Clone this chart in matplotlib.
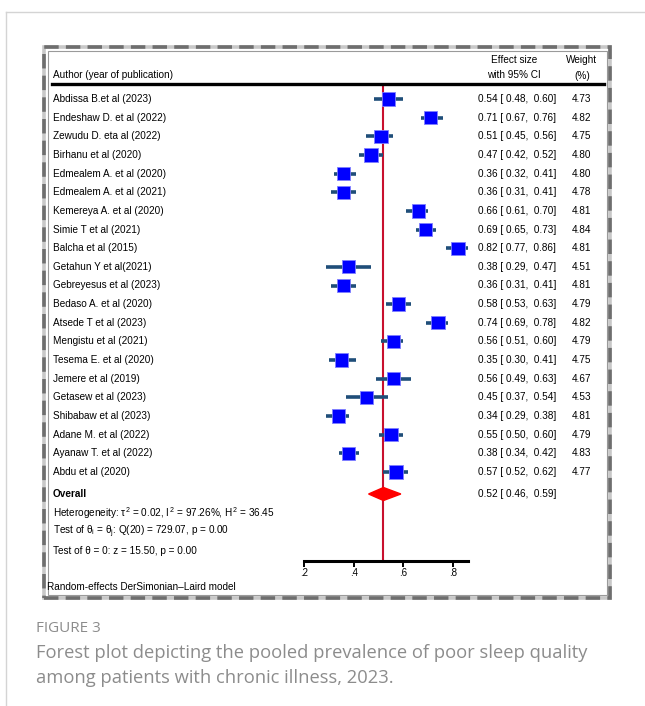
import matplotlib
matplotlib.use("Agg")
import matplotlib.pyplot as plt
import matplotlib.transforms as mtransforms
from matplotlib.patches import Rectangle, Polygon
from matplotlib.lines import Line2D

plt.rcParams['font.family'] = ['Liberation Sans', 'DejaVu Sans']
plt.rcParams['mathtext.fontset'] = 'custom'
plt.rcParams['mathtext.rm'] = 'Liberation Sans'
plt.rcParams['mathtext.it'] = 'Liberation Sans'
plt.rcParams['mathtext.bf'] = 'Liberation Sans:bold'

# ---------------- data ----------------
studies = ["Abdissa B.et al (2023)", "Endeshaw D. et al (2022)", "Zewudu D. eta al (2022)",
           "Birhanu et al (2020)", "Edmealem A. et al (2020)", "Edmealem A. et al (2021)",
           "Kemereya A. et al (2020)", "Simie T et al (2021)", "Balcha et al (2015)",
           "Getahun Y et al(2021)", "Gebreyesus et al (2023)", "Bedaso A. et al (2020)",
           "Atsede T et al (2023)", "Mengistu et al (2021)", "Tesema E. et al (2020)",
           "Jemere et al (2019)", "Getasew et al (2023)", "Shibabaw et al (2023)",
           "Adane M. et al (2022)", "Ayanaw T. et al (2022)", "Abdu et al (2020)"]
effect = [0.54, 0.71, 0.51, 0.47, 0.36, 0.36, 0.66, 0.69, 0.82, 0.38, 0.36,
          0.58, 0.74, 0.56, 0.35, 0.56, 0.45, 0.34, 0.55, 0.38, 0.57]
lower = [0.48, 0.67, 0.45, 0.42, 0.32, 0.31, 0.61, 0.65, 0.77, 0.29, 0.31,
         0.53, 0.69, 0.51, 0.30, 0.49, 0.37, 0.29, 0.50, 0.34, 0.52]
upper = [0.60, 0.76, 0.56, 0.52, 0.41, 0.41, 0.70, 0.73, 0.86, 0.47, 0.41,
         0.63, 0.78, 0.60, 0.41, 0.63, 0.54, 0.38, 0.60, 0.42, 0.62]
weight = [4.73, 4.82, 4.75, 4.80, 4.80, 4.78, 4.81, 4.84, 4.81, 4.51, 4.81,
          4.79, 4.82, 4.79, 4.75, 4.67, 4.53, 4.81, 4.79, 4.83, 4.77]
overall = (0.52, 0.46, 0.59)
xticks = [0.2, 0.4, 0.6, 0.8]
xtick_labels = [".2", ".4", ".6", ".8"]
het_lines = [r"Heterogeneity: $\tau^2$ = 0.02, $I^2$ = 97.26%, $H^2$ = 36.45",
             r"Test of $\theta_i$ = $\theta_j$: Q(20) = 729.07, p = 0.00",
             "Test of θ = 0: z = 15.50, p = 0.00"]

# ---------------- layout ----------------
W, H = 645, 706
fig = plt.figure(figsize=(W / 100, H / 100), dpi=100)

def fx(x):
    return x / W

def fy(y):
    return 1 - y / H

row0, dy = 99.0, 18.65
ax_top, ax_bot = 84.0, 561.0
xl, xr = 0.2, 0.86
px_per_unit = (453 - 304) / 0.6
ax_left = 304
ax_w = (xr - xl) * px_per_unit
ax = fig.add_axes([fx(ax_left), fy(ax_bot), ax_w / W, (ax_bot - ax_top) / H])
ax.set_xlim(xl, xr)
ax.set_ylim((ax_bot - row0) / dy, (ax_top - row0) / dy)
ax.patch.set_alpha(0)
for s in ['top', 'left', 'right']:
    ax.spines[s].set_visible(False)
ax.spines['bottom'].set_linewidth(2.2)
ax.spines['bottom'].set_bounds(xl, xr)
ax.set_yticks([])
ax.set_xticks(xticks)
ax.set_xticklabels(xtick_labels, fontsize=7)
ax.tick_params(axis='x', length=4, width=1.4, pad=1)

n = len(studies)
rows = list(range(n))
ci_col = '#1f4e79'
for i in rows:
    ax.plot([lower[i], upper[i]], [i, i], color=ci_col, lw=2.6, solid_capstyle='butt', zorder=2)
side_pt = 9.6
sizes = [side_pt ** 2 * w / 4.8 for w in weight]
ax.scatter(effect, rows, s=sizes, marker='s', facecolor='#0000ff', edgecolor='#7f7fff',
           linewidths=0.6, zorder=3)

ax.axvline(overall[0], color='#c8102e', lw=1.5, zorder=1)

y_ov = (494 - row0) / dy
half_h = 6.5 / dy
diamond = Polygon([[overall[1], y_ov], [overall[0], y_ov - half_h],
                   [overall[2], y_ov], [overall[0], y_ov + half_h]],
                  closed=True, facecolor='#ff0000', edgecolor='#ff0000', zorder=4)
ax.add_patch(diamond)

# text columns
tr = mtransforms.blended_transform_factory(fig.transFigure, ax.transData)
fs = 7.2
for i in rows:
    ax.text(fx(53), i, studies[i], transform=tr, fontsize=fs, va='center', ha='left', clip_on=False)
    ax.text(fx(556), i, f"{effect[i]:.2f} [ {lower[i]:.2f},  {upper[i]:.2f}]", transform=tr,
            fontsize=fs, va='center', ha='right', clip_on=False)
    ax.text(fx(591), i, f"{weight[i]:.2f}", transform=tr, fontsize=fs, va='center', ha='right',
            clip_on=False)

ax.text(fx(53), y_ov, "Overall", transform=tr, fontsize=fs, fontweight='bold', va='center',
        ha='left', clip_on=False)
ax.text(fx(556), y_ov, f"{overall[0]:.2f} [ {overall[1]:.2f},  {overall[2]:.2f}]", transform=tr,
        fontsize=fs, va='center', ha='right', clip_on=False)

for k, (t, ypx) in enumerate(zip(het_lines, [513, 532, 551])):
    fig.text(fx(53), fy(ypx), t, fontsize=fs, va='center', ha='left')

# header
fig.text(fx(53), fy(75), "Author (year of publication)", fontsize=fs, va='center', ha='left')
fig.text(fx(514), fy(60), "Effect size", fontsize=fs, va='center', ha='center')
fig.text(fx(514), fy(75), "with 95% CI", fontsize=fs, va='center', ha='center')
fig.text(fx(582), fy(60), "Weight", fontsize=fs, va='center', ha='center')
fig.text(fx(582), fy(76), "(%)", fontsize=fs, va='center', ha='center')
fig.add_artist(Line2D([fx(52), fx(604)], [fy(84), fy(84)], color='black', lw=2.4))

fig.text(fx(47), fy(587), "Random-effects DerSimonian\u2013Laird model", fontsize=fs,
         va='center', ha='left')

# frames
fig.add_artist(Rectangle((fx(44), fy(598)), fx(610 - 44), (598 - 47) / H, fill=False,
                         edgecolor='#c8c8c8', lw=2.6, transform=fig.transFigure))
fig.add_artist(Rectangle((fx(44), fy(598)), fx(610 - 44), (598 - 47) / H, fill=False,
                         edgecolor='#6e6e6e', lw=2.6, linestyle=(0, (4, 2)),
                         transform=fig.transFigure))
fig.add_artist(Rectangle((fx(47.5), fy(594.5)), fx(606.5 - 47.5), (594.5 - 50.5) / H, fill=False,
                         edgecolor='#9a9a9a', lw=0.8, transform=fig.transFigure))

# page frame
fig.add_artist(Line2D([fx(6), 1], [fy(12), fy(12)], color='#d4d4d4', lw=1.0))
fig.add_artist(Line2D([fx(6), fx(6)], [fy(12), 0], color='#d4d4d4', lw=1.0))

# caption
cap_font = ['Open Sans', 'DejaVu Sans']
fig.text(fx(36), fy(628), "FIGURE 3", fontsize=11, color='#8c8c8c', va='center', ha='left',
         family=cap_font)
fig.text(fx(36), fy(653), "Forest plot depicting the pooled prevalence of poor sleep quality",
         fontsize=13.2, color='#8c8c8c', va='center', ha='left', family=cap_font)
fig.text(fx(36), fy(678), "among patients with chronic illness, 2023.",
         fontsize=13.2, color='#8c8c8c', va='center', ha='left', family=cap_font)

fig.savefig("out.png", dpi=100)
